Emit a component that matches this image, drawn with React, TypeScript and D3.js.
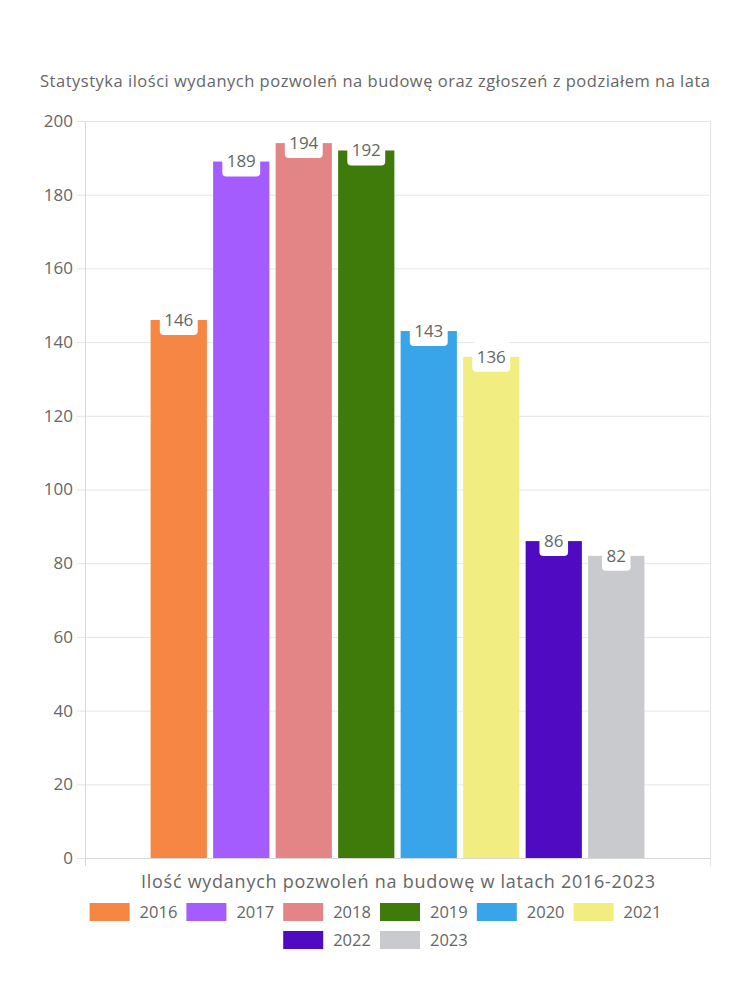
import React from "react";
import * as d3 from "d3";

const years = ["2016", "2017", "2018", "2019", "2020", "2021", "2022", "2023"];
const values = [146, 189, 194, 192, 143, 136, 86, 82];
const colors = ["#F68643", "#A45CFF", "#E38587", "#3E7B0B", "#38A4EA", "#F1ED80", "#500BC2", "#C9CACE"];
const yTicks = [0, 20, 40, 60, 80, 100, 120, 140, 160, 180, 200];
const category = ["Ilość wydanych pozwoleń na budowę w latach 2016-2023"];
const title = "Statystyka ilości wydanych pozwoleń na budowę oraz zgłoszeń z podziałem na lata";

const W = 750, H = 1000;
const left = 85, right = 710, top = 121, bottom = 858;
const FONT = "'Open Sans', sans-serif";
const TXT = "#666";

export default function App() {
  const y = d3.scaleLinear().domain([0, 200]).range([bottom, top]);
  const x0 = d3.scaleBand().domain(category).range([left, right]).paddingInner(0).paddingOuter(0);
  const groupW = x0.bandwidth() * 0.8;
  const gx = (x0(category[0]) as number) + (x0.bandwidth() - groupW) / 2;
  const x1 = d3.scaleBand().domain(years).range([gx, gx + groupW]);
  const barW = x1.bandwidth() * 0.9;

  const digitW = 9.2;
  const legendItems = years.map((yr, i) => ({ yr, color: colors[i], w: 40 + 10 + yr.length * digitW }));
  const rows: { yr: string; color: string; w: number }[][] = [legendItems.slice(0, 6), legendItems.slice(6)];

  return (
    <svg width={W} height={H} style={{ display: "block", position: "absolute", left: 0, top: 0 }} fontFamily={FONT}>
      <rect width={W} height={H} fill="#fff" />
      <text x={375} y={87} textAnchor="middle" fontSize={16.5} fill={TXT} textLength={670} lengthAdjust="spacing">{title}</text>
      {yTicks.map((t) => (
        <g key={t}>
          <line x1={left - 8} x2={right} y1={y(t) + 0.5} y2={y(t) + 0.5} stroke="#e5e5e5" strokeWidth={1} />
          <text x={73} y={y(t)} dy="0.35em" textAnchor="end" fontSize={17} fill={TXT}>{t}</text>
        </g>
      ))}
      <line x1={left + 0.5} x2={left + 0.5} y1={top} y2={bottom + 8} stroke="#d8d8d8" />
      <line x1={right + 0.5} x2={right + 0.5} y1={top} y2={bottom + 8} stroke="#e5e5e5" />
      <line x1={left} x2={right} y1={bottom + 0.5} y2={bottom + 0.5} stroke="#d8d8d8" />
      {years.map((yr, i) => {
        const bx = (x1(yr) as number) + (x1.bandwidth() - barW) / 2;
        const by = y(values[i]);
        return <rect key={yr} x={bx} y={by} width={barW} height={bottom - by} fill={colors[i]} />;
      })}
      {years.map((yr, i) => {
        const cx = (x1(yr) as number) + x1.bandwidth() / 2;
        const by = y(values[i]);
        const label = String(values[i]);
        const bw = label.length * 9.3 + 10;
        return (
          <g key={"l" + yr}>
            <rect x={cx - bw / 2} y={by - 15} width={bw} height={30} rx={4} fill="#fff" />
            <text x={cx} y={by} dy="0.35em" textAnchor="middle" fontSize={17} fill={TXT}>{label}</text>
          </g>
        );
      })}
      <text x={398} y={888} textAnchor="middle" fontSize={18} fill={TXT} textLength={514} lengthAdjust="spacing">{category[0]}</text>
      {rows.map((row, ri) => {
        const total = d3.sum(row, (d) => d.w) + (row.length - 1) * 10;
        let cur = 375 - total / 2;
        const cy = 912 + ri * 28;
        return (
          <g key={ri}>
            {row.map((it) => {
              const xx = cur;
              cur += it.w + 10;
              return (
                <g key={it.yr}>
                  <rect x={xx} y={cy - 9} width={40} height={18} fill={it.color} />
                  <text x={xx + 50} y={cy} dy="0.35em" fontSize={16.5} fill={TXT}>{it.yr}</text>
                </g>
              );
            })}
          </g>
        );
      })}
    </svg>
  );
}
